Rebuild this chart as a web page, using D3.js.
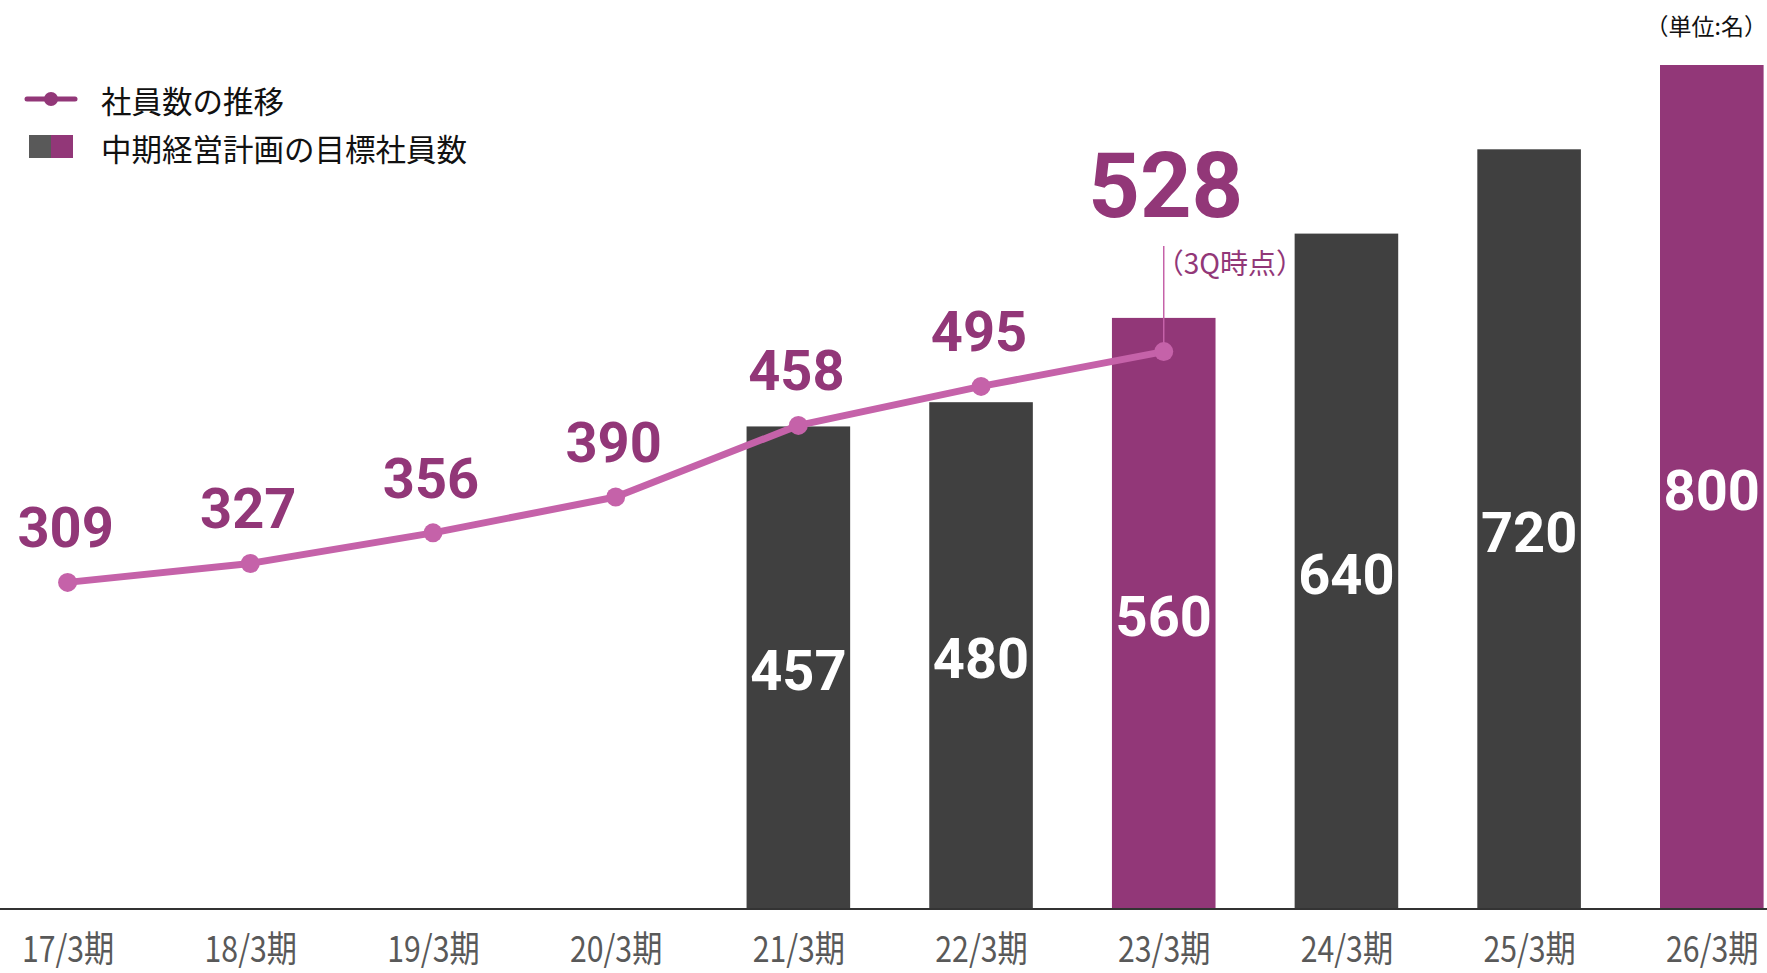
<!DOCTYPE html>
<html>
<head>
<meta charset="utf-8">
<script src="https://cdn.jsdelivr.net/npm/d3@7/dist/d3.min.js"></script>
<style>
  body { margin: 0; background: #fff; }
  svg { display: block; }
</style>
</head>
<body>
<div class="chart"></div>
<script>
// data
const periods = ["17/3期", "18/3期", "19/3期", "20/3期", "21/3期", "22/3期", "23/3期", "24/3期", "25/3期", "26/3期"];
const actualPeriods = ["17/3期", "18/3期", "19/3期", "20/3期", "21/3期", "22/3期", "23/3期"];
const actualValues = [309, 327, 356, 390, 458, 495, 528];
const targetPeriods = ["21/3期", "22/3期", "23/3期", "24/3期", "25/3期", "26/3期"];
const targetValues = [457, 480, 560, 640, 720, 800];
const highlightTargets = ["23/3期", "26/3期"];
const legendLabels = ["社員数の推移", "中期経営計画の目標社員数"];
const unitLabel = "（単位:名）";
const noteLabel = "（3Q時点）";

const w = 1767, h = 973;
const dark = "#404040", purple = "#923778", pink = "#c562a9";

const svg = d3.select(".chart").append("svg")
  .attr("width", w)
  .attr("height", h);

const x = d3.scalePoint().domain(periods).range([67.6, 1711.8]);
const barW = x.step() * 0.567;
const y = d3.scaleLinear().domain([0, 800]).range([908, 65]);

// bars
const bars = targetPeriods.map((p, i) => ({ label: p, value: targetValues[i] }));
svg.selectAll("rect.bar")
  .data(bars)
  .enter()
  .append("rect")
  .attr("class", "bar")
  .attr("x", d => x(d.label) - barW / 2)
  .attr("y", d => y(d.value))
  .attr("width", barW)
  .attr("height", d => y(0) - y(d.value))
  .attr("fill", d => highlightTargets.includes(d.label) ? purple : dark);

svg.selectAll("text.barval")
  .data(bars)
  .enter()
  .append("text")
  .attr("class", "barval")
  .attr("x", d => x(d.label))
  .attr("y", d => (y(d.value) + y(0)) / 2 + 4)
  .attr("text-anchor", "middle")
  .attr("dominant-baseline", "central")
  .attr("font-family", "Roboto, sans-serif")
  .attr("font-weight", 700)
  .attr("font-size", 56)
  .attr("fill", "#fff")
  .text(d => d.value);

// baseline axis
const xAxis = d3.axisBottom(x).tickSize(0).tickPadding(0);
const axisG = svg.append("g")
  .attr("transform", `translate(0,${y(0)})`)
  .call(xAxis);
axisG.select(".domain").remove();
axisG.selectAll("text")
  .attr("y", 54)
  .attr("dy", 0)
  .attr("font-family", "'Noto Sans CJK JP', sans-serif")
  .attr("font-size", 36)
  .attr("fill", "#595959")
  .attr("transform", "scale(0.84,1)");
svg.append("line")
  .attr("x1", 0).attr("x2", w)
  .attr("y1", y(0) + 1).attr("y2", y(0) + 1)
  .attr("stroke", "#333")
  .attr("stroke-width", 2);

// line series
const pts = actualPeriods.map((p, i) => ({ label: p, value: actualValues[i] }));
const line = d3.line().x(d => x(d.label)).y(d => y(d.value));

// leader line for the last point
const last = pts[pts.length - 1];
svg.append("line")
  .attr("x1", x(last.label)).attr("x2", x(last.label))
  .attr("y1", y(last.value)).attr("y2", 246)
  .attr("stroke", pink)
  .attr("stroke-width", 1.5);

svg.append("path")
  .datum(pts)
  .attr("d", line)
  .attr("fill", "none")
  .attr("stroke", pink)
  .attr("stroke-width", 7)
  .attr("stroke-linejoin", "round");

svg.selectAll("circle.pt")
  .data(pts)
  .enter()
  .append("circle")
  .attr("class", "pt")
  .attr("cx", d => x(d.label))
  .attr("cy", d => y(d.value))
  .attr("r", 9.5)
  .attr("fill", pink);

svg.selectAll("text.ptval")
  .data(pts.slice(0, -1))
  .enter()
  .append("text")
  .attr("class", "ptval")
  .attr("x", d => x(d.label) - 2)
  .attr("y", d => y(d.value) - 35)
  .attr("text-anchor", "middle")
  .attr("font-family", "Roboto, sans-serif")
  .attr("font-weight", 700)
  .attr("font-size", 56)
  .attr("fill", purple)
  .text(d => d.value);

svg.append("text")
  .attr("x", x(last.label) + 2)
  .attr("y", 217)
  .attr("text-anchor", "middle")
  .attr("font-family", "Roboto, sans-serif")
  .attr("font-weight", 700)
  .attr("font-size", 90)
  .attr("fill", purple)
  .text(last.value);

svg.append("text")
  .attr("x", x(last.label) - 8)
  .attr("y", 274)
  .attr("font-family", "'Noto Sans CJK JP', sans-serif")
  .attr("font-size", 28)
  .attr("fill", purple)
  .text(noteLabel);

// unit
svg.append("text")
  .attr("x", w)
  .attr("y", 35)
  .attr("text-anchor", "end")
  .attr("font-family", "'Noto Sans CJK JP', sans-serif")
  .attr("font-size", 23)
  .attr("fill", "#111")
  .text(unitLabel);

// legend
const lg = svg.append("g");
lg.append("line")
  .attr("x1", 27).attr("x2", 75)
  .attr("y1", 99).attr("y2", 99)
  .attr("stroke", purple)
  .attr("stroke-width", 5)
  .attr("stroke-linecap", "round");
lg.append("circle").attr("cx", 51).attr("cy", 99).attr("r", 7).attr("fill", purple);
lg.append("rect").attr("x", 29).attr("y", 135).attr("width", 22).attr("height", 23).attr("fill", "#595959");
lg.append("rect").attr("x", 51).attr("y", 135).attr("width", 22).attr("height", 23).attr("fill", purple);
lg.selectAll("text")
  .data(legendLabels)
  .enter()
  .append("text")
  .attr("x", 101)
  .attr("y", (d, i) => 100 + i * 48)
  .attr("dominant-baseline", "central")
  .attr("font-family", "'Noto Sans CJK JP', sans-serif")
  .attr("font-size", 30.5)
  .attr("fill", "#111")
  .text(d => d);
</script>
</body>
</html>
